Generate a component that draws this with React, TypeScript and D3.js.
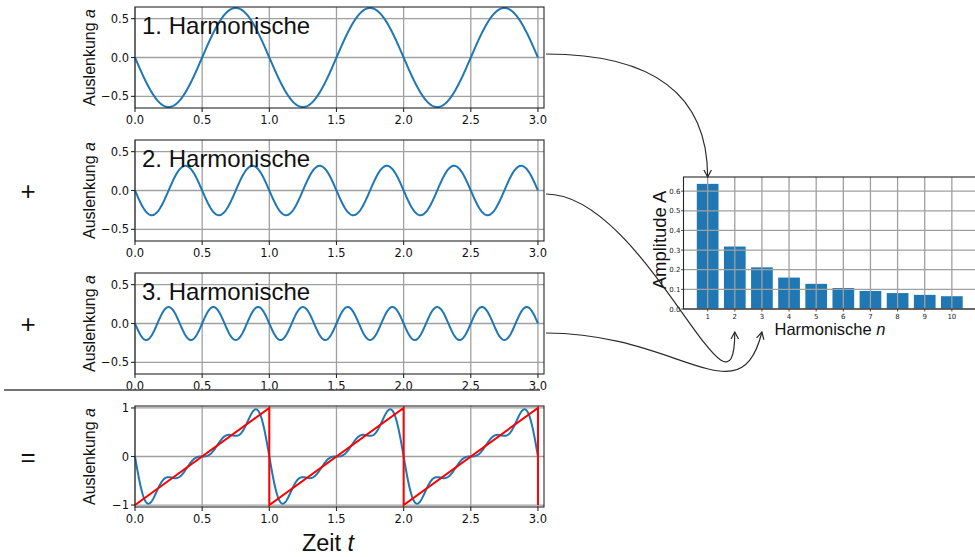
import React from "react";
import * as d3 from "d3";

// ---------- data ----------
const harmonicNumbers = [1, 2, 3, 4, 5, 6, 7, 8, 9, 10];
const amplitudes = [0.637, 0.318, 0.212, 0.16, 0.128, 0.107, 0.092, 0.081, 0.072, 0.065];
const shownHarmonics = [1, 2, 3];
const sumHarmonicCount = 4;
const sawTimes = [0, 1, 1, 2, 2, 3, 3];
const sawValues = [-1, 1, -1, 1, -1, 1, -1];
const timeTicks = [0, 0.5, 1, 1.5, 2, 2.5, 3];
const harmonicYTicks = [-0.5, 0, 0.5];
const sumYTicks = [-1, 0, 1];
const ampTicks = [0, 0.1, 0.2, 0.3, 0.4, 0.5, 0.6];
const operators = ["+", "+", "="];

// ---------- layout ----------
const W = 975;
const H = 557;
const PX0 = 135;
const PX1 = 544;
const panelTops = [7, 140, 273, 406];
const PH = 101;
const BLUE = "#1f77b4";
const GRID = "#a0a0a0";
const SPINE = "#262626";
const LABEL_FONT = "'Liberation Sans', Arial, Helvetica, sans-serif";
const TICK_FONT = "'DejaVu Sans', sans-serif";

const xT = d3.scaleLinear().domain([0, 3.045]).range([PX0, PX1]);
const samples = d3.range(0, 3.0001, 0.004);

function harmonicValue(n: number, t: number) {
  return -amplitudes[n - 1] * Math.sin(2 * Math.PI * n * t);
}

function TimePanel({ top, yDomain, yTicks, tickFmt, children }: any) {
  const y = d3.scaleLinear().domain(yDomain).range([top + PH, top]);
  return (
    <g>
      {timeTicks.map((t) => (
        <line key={"gx" + t} x1={xT(t)} x2={xT(t)} y1={top} y2={top + PH} stroke={GRID} strokeWidth={1.3} />
      ))}
      {yTicks.map((v: number) => (
        <line key={"gy" + v} x1={PX0} x2={PX1} y1={y(v)} y2={y(v)} stroke={GRID} strokeWidth={1.3} />
      ))}
      {children(y)}
      <rect x={PX0} y={top} width={PX1 - PX0} height={PH} fill="none" stroke={SPINE} strokeWidth={1.1} />
      {yTicks.map((v: number) => (
        <g key={"ty" + v}>
          <line x1={PX0 - 4} x2={PX0} y1={y(v)} y2={y(v)} stroke={SPINE} strokeWidth={1.1} />
          <text x={PX0 - 6} y={y(v)} dy="0.36em" textAnchor="end" fontFamily={TICK_FONT} fontSize={11.5} fill="#111">
            {tickFmt(v)}
          </text>
        </g>
      ))}
      {timeTicks.map((t) => (
        <g key={"tx" + t}>
          <line x1={xT(t)} x2={xT(t)} y1={top + PH} y2={top + PH + 4} stroke={SPINE} strokeWidth={1.1} />
          <text x={xT(t)} y={top + PH + 16} textAnchor="middle" fontFamily={TICK_FONT} fontSize={11.5} fill="#111">
            {d3.format(".1f")(t)}
          </text>
        </g>
      ))}
      <text
        transform={`translate(95,${top + PH / 2}) rotate(-90)`}
        textAnchor="middle"
        fontFamily={LABEL_FONT}
        fontSize={16}
        fill="#111"
      >
        Auslenkung <tspan fontStyle="italic">a</tspan>
      </text>
    </g>
  );
}

function BarChart() {
  const bx0 = 683.5;
  const bx1 = 976;
  const by0 = 177;
  const by1 = 309;
  const x = d3.scaleLinear().domain([0.11, 10.89]).range([bx0, bx1]);
  const y = d3.scaleLinear().domain([0, 0.672]).range([by1, by0]);
  const bw = x(0.8) - x(0);
  return (
    <g>
      {harmonicNumbers.map((n, i) => (
        <rect key={"b" + n} x={x(n) - bw / 2} y={y(amplitudes[i])} width={bw} height={y(0) - y(amplitudes[i])} fill={BLUE} />
      ))}
      {harmonicNumbers.map((n) => (
        <line key={"gx" + n} x1={x(n)} x2={x(n)} y1={by0} y2={by1} stroke={GRID} strokeWidth={1.3} />
      ))}
      {ampTicks.map((v) => (
        <line key={"gy" + v} x1={bx0} x2={bx1} y1={y(v)} y2={y(v)} stroke={GRID} strokeWidth={1.3} />
      ))}
      <rect x={bx0} y={by0} width={bx1 - bx0} height={by1 - by0} fill="none" stroke={SPINE} strokeWidth={1.1} />
      {ampTicks.map((v) => (
        <g key={"ty" + v}>
          <line x1={bx0 - 2.5} x2={bx0} y1={y(v)} y2={y(v)} stroke={SPINE} strokeWidth={0.8} />
          <text x={bx0 - 3} y={y(v)} dy="0.36em" textAnchor="end" fontFamily={TICK_FONT} fontSize={7} fill="#222">
            {d3.format(".1f")(v)}
          </text>
        </g>
      ))}
      {harmonicNumbers.map((n) => (
        <g key={"tx" + n}>
          <line x1={x(n)} x2={x(n)} y1={by1} y2={by1 + 2.5} stroke={SPINE} strokeWidth={0.8} />
          <text x={x(n)} y={by1 + 9.5} textAnchor="middle" fontFamily={TICK_FONT} fontSize={7} fill="#222">
            {n}
          </text>
        </g>
      ))}
      <text x={830} y={334.5} textAnchor="middle" fontFamily={LABEL_FONT} fontSize={16.5} fill="#111">
        Harmonische <tspan fontStyle="italic">n</tspan>
      </text>
      <text transform={`translate(666,240) rotate(-90)`} textAnchor="middle" fontFamily={LABEL_FONT} fontSize={18.5} fill="#111">
        Amplitude A
      </text>
    </g>
  );
}

function Arrow({ d, tip, from }: any) {
  const dx = tip[0] - from[0];
  const dy = tip[1] - from[1];
  const len = Math.hypot(dx, dy);
  const ux = dx / len;
  const uy = dy / len;
  const L = 8;
  const ang = (28 * Math.PI) / 180;
  const rot = (a: number) => [ux * Math.cos(a) - uy * Math.sin(a), ux * Math.sin(a) + uy * Math.cos(a)];
  const r1 = rot(ang);
  const r2 = rot(-ang);
  return (
    <g fill="none" stroke="#2a2a2a" strokeWidth={1.2}>
      <path d={d} />
      <path
        d={`M${tip[0] - L * r1[0]},${tip[1] - L * r1[1]} L${tip[0]},${tip[1]} L${tip[0] - L * r2[0]},${tip[1] - L * r2[1]}`}
      />
    </g>
  );
}

export default function App() {
  const line = (fn: (t: number) => number, y: any) =>
    d3.line<number>().x((t) => xT(t)).y((t) => y(fn(t)))(samples) || "";
  const sawLine = (y: any) =>
    d3.line<number>().x((_, i) => xT(sawTimes[i])).y((v) => y(v))(sawValues) || "";
  const sumFn = (t: number) =>
    d3.sum(d3.range(1, sumHarmonicCount + 1), (n) => harmonicValue(n, t));

  const xb = d3.scaleLinear().domain([0.11, 10.89]).range([683.5, 976]);
  const a1 = { s: [546, 54], e: [xb(1), 177] };
  const a2 = { s: [546, 194], e: [xb(2), 332] };
  const a3 = { s: [546, 333], e: [xb(3), 332] };

  return (
    <svg width={W} height={H} style={{ position: "absolute", left: 0, top: 0, background: "#fff" }}>
      <rect width={W} height={H} fill="#fff" />
      {shownHarmonics.map((n, i) => (
        <TimePanel
          key={"p" + n}
          top={panelTops[i]}
          yDomain={[-0.65, 0.65]}
          yTicks={harmonicYTicks}
          tickFmt={d3.format(".1f")}
        >
          {(y: any) => (
            <g>
              <path d={line((t) => harmonicValue(n, t), y)} fill="none" stroke={BLUE} strokeWidth={2} />
              <text x={142} y={panelTops[i] + 27} fontFamily={LABEL_FONT} fontSize={24} fill="#111">
                {n}. Harmonische
              </text>
            </g>
          )}
        </TimePanel>
      ))}
      <TimePanel top={panelTops[3]} yDomain={[-1.04, 1.04]} yTicks={sumYTicks} tickFmt={d3.format("d")}>
        {(y: any) => (
          <g>
            <path d={line(sumFn, y)} fill="none" stroke={BLUE} strokeWidth={2} />
            <path d={sawLine(y)} fill="none" stroke="#ff0000" strokeWidth={2} />
          </g>
        )}
      </TimePanel>
      <text x={328} y={551} textAnchor="middle" fontFamily={LABEL_FONT} fontSize={23.5} fill="#111">
        Zeit <tspan fontStyle="italic">t</tspan>
      </text>
      <line x1={4} x2={540} y1={390} y2={390} stroke="#444" strokeWidth={1.3} />
      {operators.map((op, i) => (
        <text
          key={"op" + i}
          x={28}
          y={panelTops[i + 1] + PH / 2}
          dy="0.35em"
          textAnchor="middle"
          fontFamily={LABEL_FONT}
          fontSize={26}
          fill="#111"
        >
          {op}
        </text>
      ))}
      <BarChart />
      <Arrow
        d={`M${a1.s[0]},${a1.s[1]} Q${a1.e[0]},${a1.s[1]} ${a1.e[0]},${a1.e[1]}`}
        tip={a1.e}
        from={[a1.e[0], a1.s[1]]}
      />
      <Arrow
        d={`M${a2.s[0]},${a2.s[1]} C645,${a2.s[1]} ${a2.e[0]},447 ${a2.e[0]},${a2.e[1]}`}
        tip={a2.e}
        from={[a2.e[0], 447]}
      />
      <Arrow
        d={`M${a3.s[0]},${a3.s[1]} C680,${a3.s[1]} 740,420 ${a3.e[0]},${a3.e[1]}`}
        tip={a3.e}
        from={[740, 420]}
      />
    </svg>
  );
}
